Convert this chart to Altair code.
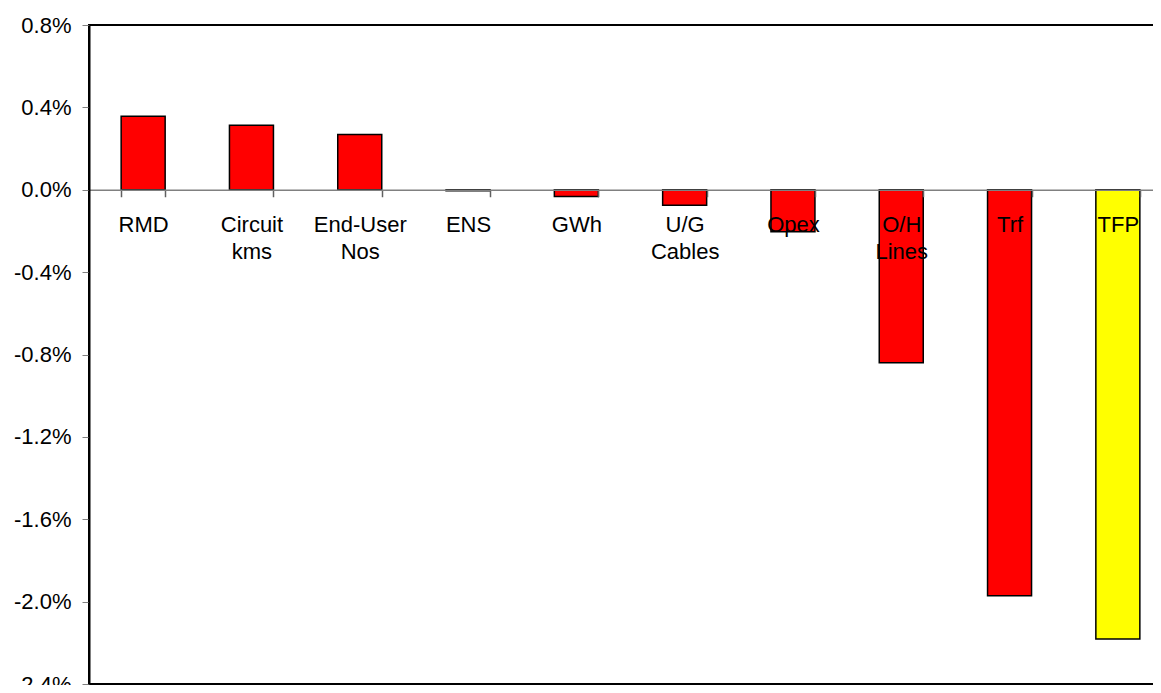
import altair as alt
import pandas as pd

categories = ["RMD", "Circuit kms", "End-User Nos", "ENS", "GWh", "U/G Cables",
              "Opex", "O/H Lines", "Trf", "TFP"]
values = [0.00357, 0.00313, 0.00268, -0.00005, -0.00033, -0.00075,
          -0.00204, -0.00840, -0.01971, -0.02182]
colors = ["#FF0000"] * 9 + ["#FFFF00"]
y_ticks = [-0.024, -0.020, -0.016, -0.012, -0.008, -0.004, 0.0, 0.004, 0.008]

df = pd.DataFrame({"cat": categories, "val": values, "col": colors})

FONT = "Liberation Sans"
H = 659
W = 1083
zero_px = H * 0.008 / 0.032

chart = alt.Chart(df).mark_bar(size=44, stroke="black", strokeWidth=1.5).encode(
    x=alt.X("cat:N", sort=categories, title=None,
            scale=alt.Scale(paddingInner=0.594, paddingOuter=0.297),
            axis=alt.Axis(orient="bottom", offset=-(H - zero_px), labelAngle=0,
                          labelExpr="split(datum.label, ' ')",
                          labelFont=FONT, labelFontSize=22, labelColor="black",
                          labelLineHeight=27, labelPadding=18,
                          tickBand="extent", tickSize=7, tickColor="#606060",
                          tickWidth=1.5,
                          domainColor="#808080", domainWidth=1.5, zindex=1)),
    y=alt.Y("val:Q", title=None,
            scale=alt.Scale(domain=[-0.024, 0.008], nice=False),
            axis=alt.Axis(values=y_ticks, format=".1%", grid=False,
                          labelExpr="replace(datum.label, '\u2212', '-')",
                          labelFont=FONT, labelFontSize=22, labelColor="black",
                          labelPadding=11, tickSize=7, tickColor="#808080",
                          domainColor="black", domainWidth=2, zindex=1)),
    color=alt.Color("col:N", scale=None),
).properties(
    width=W, height=H,
    autosize=alt.AutoSizeParams(type="none"),
    padding={"left": 81, "top": 17, "right": -19, "bottom": 1},
).configure_view(stroke="black", strokeWidth=2)

chart.save("out.html", embed_options={"renderer": "svg", "actions": False})
